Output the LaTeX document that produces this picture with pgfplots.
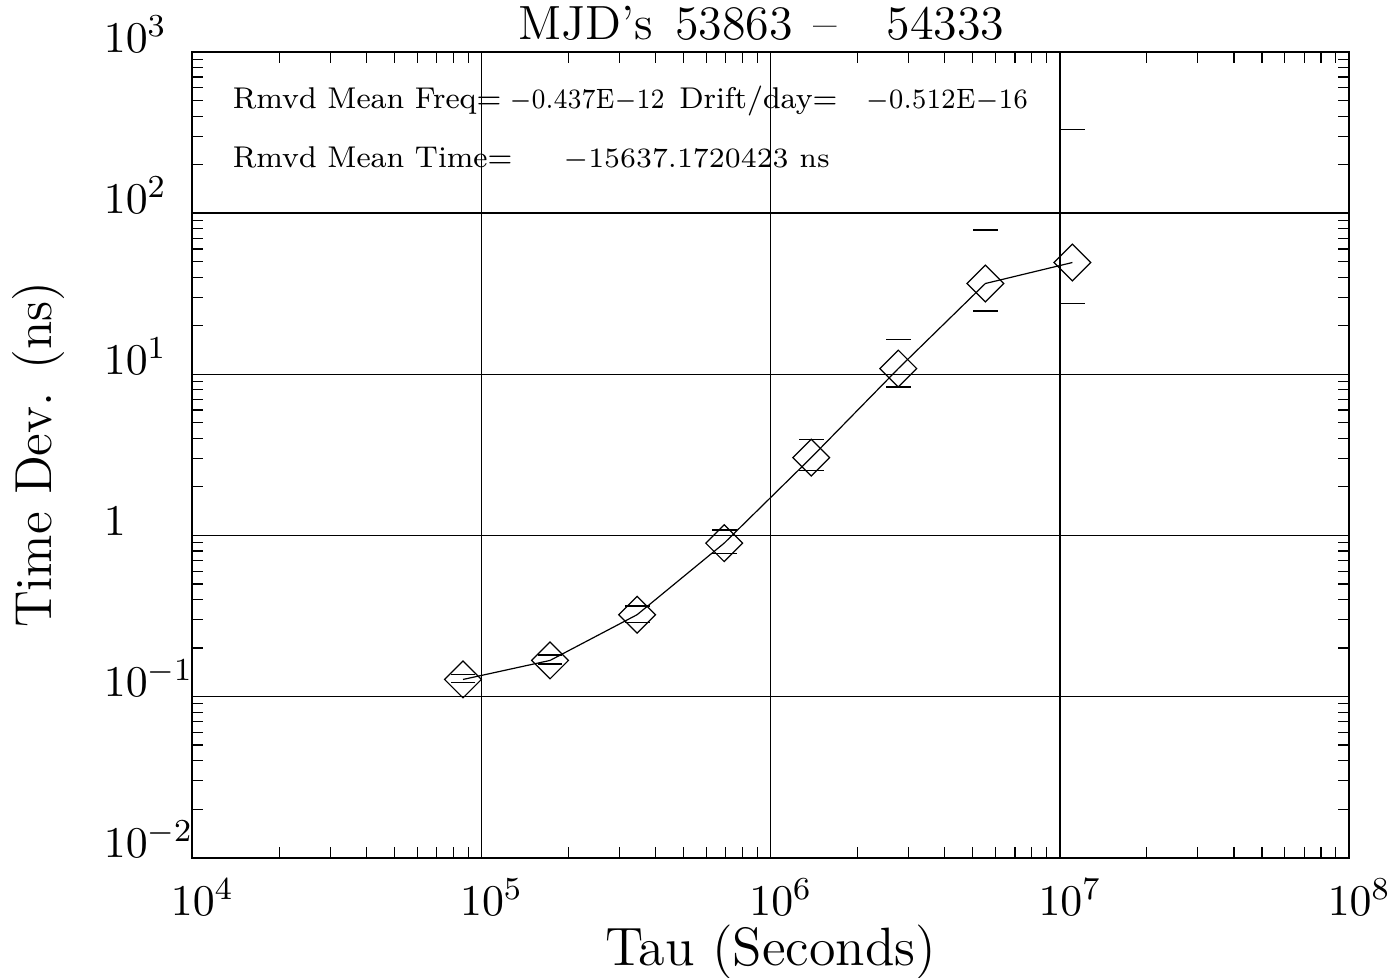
\documentclass[border=0pt]{standalone}
\usepackage{graphicx}
\usepackage{pgfplots}
\pgfplotsset{compat=1.18}

\begin{document}
\begin{tikzpicture}
\begin{axis}[
    at={(0,0)}, anchor=south west,
    scale only axis,
    width=289pt, height=201.25pt,
    xmode=log, ymode=log,
    xmin=1e4, xmax=1e8,
    ymin=1e-2, ymax=1e3,
    clip=false,
    axis line style={line width=0.45pt},
    grid=major,
    major grid style={line width=0.38pt, black},
    tick align=inside,
    major tick length=0pt,
    minor tick length=2.7pt,
    every tick/.style={black, line width=0.3pt},
    xtick={1e4,1e5,1e6,1e7,1e8},
    xticklabels={$10^{4}$,$10^{5}$,$10^{6}$,$10^{7}$,$10^{8}$},
    ytick={1e-2,1e-1,1,1e1,1e2,1e3},
    yticklabels={$10^{-2}$,$10^{-1}$,$1$,$10^{1}$,$10^{2}$,$10^{3}$},
    xticklabel style={anchor=base west, inner sep=0pt,
        font=\fontsize{11}{13}\selectfont, xshift=-5.5pt, yshift=-14.5pt},
    yticklabel style={anchor=base west, inner sep=0pt,
        font=\fontsize{11}{13}\selectfont, xshift=-22.25pt},
    xlabel={Tau (Seconds)},
    ylabel={Time Dev. (ns)},
    every axis x label/.style={at={(rel axis cs:0.5,-0.134)}, anchor=base,
        font=\fontsize{13.5}{15}\selectfont},
    every axis y label/.style={at={(rel axis cs:-0.1324,0.5)}, anchor=center,
        rotate=90, font=\fontsize{13}{15}\selectfont},
]
% time deviation
\addplot[black, line width=0.3pt, mark=square, mark size=3.25pt,
    mark options={rotate=45, solid, fill=none, line width=0.3pt}]
coordinates {
(86400,0.1276) (172800,0.1675) (345600,0.322) (691200,0.895)
(1382400,3.04) (2764800,10.85) (5529600,36.6) (11059200,49.4)
};
% upper error caps
\addplot[black, only marks, mark=-, mark size=3.1pt, mark options={line width=0.35pt}]
coordinates {
(86400,0.137) (172800,0.1815) (345600,0.364) (691200,1.08)
(1382400,3.93) (2764800,16.4) (5529600,78.7) (11059200,331)
};
% lower error caps
\addplot[black, only marks, mark=-, mark size=3.1pt, mark options={line width=0.35pt}]
coordinates {
(86400,0.1227) (172800,0.1595) (345600,0.287) (691200,0.77)
(1382400,2.53) (2764800,8.34) (5529600,24.7) (11059200,27.6)
};

\node[anchor=base, inner sep=0pt, font=\fontsize{12}{13}\selectfont]
    at (rel axis cs:0.492,1.016)
    {MJD's\hspace{5.5pt}53863\hspace{5.25pt}--\hspace{12.25pt}54333};

\begin{scope}[every node/.style={anchor=base west, inner sep=0pt,
    font=\fontsize{7.5}{9}\selectfont}]
\node at (rel axis cs:0.0346,0.9304) {Rmvd Mean Freq=};
\node at (rel axis cs:0.4204,0.9304) {Drift/day=};
\node at (rel axis cs:0.0346,0.8571) {Rmvd Mean Time=};
\end{scope}
\begin{scope}[every node/.style={anchor=base east, inner sep=0pt,
    font=\fontsize{7}{9}\selectfont}]
\node at (rel axis cs:0.4092,0.9304) {\scalebox{0.88}[1]{$-$0.437E$-$12}};
\node at (rel axis cs:0.7232,0.9304) {\scalebox{0.92}[1]{$-$0.512E$-$16}};
\node at (rel axis cs:0.5519,0.8571) {$-$15637.1720423 ns};
\end{scope}
\end{axis}
\pgfresetboundingbox
\path[use as bounding box] (-48pt,-30pt) rectangle (300pt,214.25pt);
\end{tikzpicture}
\end{document}
